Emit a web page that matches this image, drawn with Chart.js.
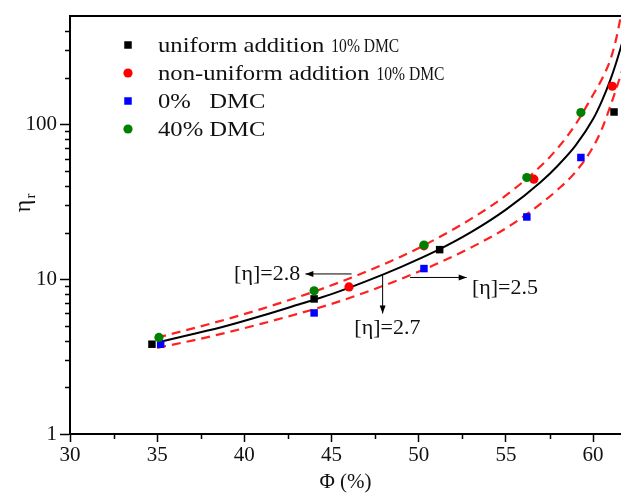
<!DOCTYPE html>
<html>
<head>
<meta charset="utf-8">
<script src="https://cdn.jsdelivr.net/npm/chart.js@4.4.1/dist/chart.umd.min.js"></script>
<style>
  html, body { margin: 0; padding: 0; background: #fff; }
  canvas { display: block; }
</style>
</head>
<body>
<canvas id="myChart" width="621" height="493"></canvas>
<script>
// measured points (phi in %, relative viscosity)
const uniformPhi = [34.7, 44.0, 51.2, 61.2];
const uniformEta = [3.8, 7.45, 15.5, 120];
const nonUniformPhi = [46.0, 50.3, 56.6, 61.1];
const nonUniformEta = [8.9, 16.4, 44.2, 176];
const dmc0Phi = [35.2, 44.0, 50.3, 56.2, 59.3];
const dmc0Eta = [3.8, 6.05, 11.7, 25.2, 61];
const dmc40Phi = [35.1, 44.0, 50.3, 56.2, 59.3];
const dmc40Eta = [4.2, 8.4, 16.6, 45.3, 119];

// fitted curves
const fitPhi = [35, 37, 39, 41, 43, 45, 47, 49, 51, 53, 55, 57, 58, 59, 60, 60.5, 61, 61.3, 61.7];
const fitEta27 = [3.9, 4.4, 5.0, 5.8, 6.8, 8.0, 9.7, 12.0, 15.2, 20.1, 28.1, 42.4, 54.4, 73, 108, 141, 195, 245, 345];
const fitEta28 = [4.19, 4.79, 5.52, 6.43, 7.6, 9.12, 11.2, 14.0, 18.2, 24.5, 34.7, 53.7, 70.8, 100, 155, 195, 263, 347, 575];
const fitEta25 = [3.6, 4.01, 4.52, 5.16, 5.94, 6.92, 8.26, 10.05, 12.5, 16.0, 21.3, 30.7, 38.1, 49.3, 71.3, 93, 132, 166, 228];

const xTicks = [30, 35, 40, 45, 50, 55, 60];
const xMinorTicks = [32.5, 37.5, 42.5, 47.5, 52.5, 57.5];
const yTicks = [1, 10, 100];
const yMinorTicks = [2, 3, 4, 5, 6, 7, 8, 9, 20, 30, 40, 50, 60, 70, 80, 90, 200, 300, 400];

const legendMain = ['uniform addition', 'non-uniform addition', '0%   DMC', '40% DMC'];
const legendSmall = ['10% DMC', '10% DMC', '', ''];

// [eta] labels: text, anchor (phi, eta), arrow from / to (phi, eta)
const noteText = ['[\u03B7]=2.8', '[\u03B7]=2.7', '[\u03B7]=2.5'];
const noteAlign = ['right', 'center', 'left'];
const noteAt = [[43.2, 10.8], [48.2, 4.83], [53.05, 8.8]];
const arrowFrom = [[46.15, 10.8], [47.93, 10.6], [49.5, 10.25]];
const arrowTo = [[43.5, 10.8], [47.93, 6.0], [52.75, 10.25]];

const serif = 'Liberation Serif';

function pts(xs, ys) {
	return xs.map((x, i) => ({ x: x, y: ys[i] }));
}

function noSidePadding(s) {
	s.paddingLeft = 0;
	s.paddingRight = 0;
}

const minorTicks = {
	id: 'minorTicks',
	afterDraw(chart) {
		const ctx = chart.ctx;
		const xs = chart.scales.x;
		const ys = chart.scales.y;
		const area = chart.chartArea;
		ctx.save();
		ctx.strokeStyle = '#000';
		ctx.lineWidth = 1.5;
		ctx.beginPath();
		xMinorTicks.forEach(v => {
			const p = Math.round(xs.getPixelForValue(v)) + 0.5;
			ctx.moveTo(p, area.bottom);
			ctx.lineTo(p, area.bottom + 5);
		});
		yMinorTicks.forEach(v => {
			const p = Math.round(ys.getPixelForValue(v)) + 0.5;
			ctx.moveTo(area.left - 5, p);
			ctx.lineTo(area.left, p);
		});
		ctx.stroke();
		ctx.restore();
	}
};

const notes = {
	id: 'notes',
	afterDatasetsDraw(chart) {
		const ctx = chart.ctx;
		const xs = chart.scales.x;
		const ys = chart.scales.y;
		ctx.save();
		ctx.lineWidth = 1;
		for (let i = 0; i < noteText.length; i++) {
			const x0 = xs.getPixelForValue(arrowFrom[i][0]);
			const y0 = ys.getPixelForValue(arrowFrom[i][1]);
			const x1 = xs.getPixelForValue(arrowTo[i][0]);
			const y1 = ys.getPixelForValue(arrowTo[i][1]);
			ctx.strokeStyle = '#000';
			ctx.fillStyle = '#000';
			ctx.beginPath();
			ctx.moveTo(x0, y0);
			ctx.lineTo(x1, y1);
			ctx.stroke();
			const a = Math.atan2(y1 - y0, x1 - x0);
			ctx.beginPath();
			ctx.moveTo(x1, y1);
			ctx.lineTo(x1 - 8 * Math.cos(a) + 3 * Math.sin(a), y1 - 8 * Math.sin(a) - 3 * Math.cos(a));
			ctx.lineTo(x1 - 8 * Math.cos(a) - 3 * Math.sin(a), y1 - 8 * Math.sin(a) + 3 * Math.cos(a));
			ctx.closePath();
			ctx.fill();

			ctx.fillStyle = '#111';
			ctx.font = '22px "' + serif + '"';
			ctx.textAlign = noteAlign[i];
			ctx.textBaseline = 'middle';
			ctx.fillText(noteText[i], xs.getPixelForValue(noteAt[i][0]), ys.getPixelForValue(noteAt[i][1]));
		}
		ctx.restore();
	}
};

const legendBox = {
	id: 'legendBox',
	afterDraw(chart) {
		const ctx = chart.ctx;
		ctx.save();
		for (let i = 0; i < legendMain.length; i++) {
			const ds = chart.data.datasets[i];
			const y = 45 + i * 28;
			ctx.fillStyle = ds.backgroundColor;
			Chart.helpers.drawPoint(ctx, { pointStyle: ds.pointStyle, radius: ds.pointRadius, rotation: 0, borderWidth: 0 }, 128, y);
			ctx.fillStyle = '#111';
			ctx.textAlign = 'left';
			ctx.textBaseline = 'alphabetic';
			ctx.font = '22px "' + serif + '"';
			const w = ctx.measureText(legendMain[i]).width * 1.12;
			ctx.save();
			ctx.translate(158, y + 7);
			ctx.scale(1.12, 1);
			ctx.fillText(legendMain[i], 0, 0);
			ctx.restore();
			if (legendSmall[i]) {
				ctx.font = '19px "' + serif + '"';
				ctx.save();
				ctx.translate(158 + w + 7, y + 7);
				ctx.scale(0.82, 1);
				ctx.fillText(legendSmall[i], 0, 0);
				ctx.restore();
			}
		}
		ctx.restore();
	}
};

const yTitle = {
	id: 'yTitle',
	afterDraw(chart) {
		const ctx = chart.ctx;
		ctx.save();
		ctx.translate(24, 203);
		ctx.rotate(-Math.PI / 2);
		ctx.fillStyle = '#111';
		ctx.textAlign = 'center';
		ctx.textBaseline = 'middle';
		ctx.font = '24px "' + serif + '"';
		ctx.fillText('\u03B7', -3, 0);
		ctx.font = '15px "' + serif + '"';
		ctx.fillText('r', 7, 7);
		ctx.restore();
	}
};

const ctx = document.getElementById('myChart').getContext('2d');
const chart = new Chart(ctx, {
	type: 'scatter',
	data: {
		datasets: [
			{ label: 'uniform addition 10% DMC', data: pts(uniformPhi, uniformEta), pointStyle: 'rect', pointRadius: 5.3, backgroundColor: '#000000', borderWidth: 0, order: 4 },
			{ label: 'non-uniform addition 10% DMC', data: pts(nonUniformPhi, nonUniformEta), pointStyle: 'circle', pointRadius: 4.6, backgroundColor: '#ff0000', borderWidth: 0, order: 3 },
			{ label: '0% DMC', data: pts(dmc0Phi, dmc0Eta), pointStyle: 'rect', pointRadius: 5.3, backgroundColor: '#0000ff', borderWidth: 0, order: 2 },
			{ label: '40% DMC', data: pts(dmc40Phi, dmc40Eta), pointStyle: 'circle', pointRadius: 4.6, backgroundColor: '#008000', borderWidth: 0, order: 1 },
			{ label: '[η]=2.7', data: pts(fitPhi, fitEta27), showLine: true, pointRadius: 0, borderColor: '#000000', borderWidth: 2, cubicInterpolationMode: 'monotone', order: 10 },
			{ label: '[η]=2.8', data: pts(fitPhi, fitEta28), showLine: true, pointRadius: 0, borderColor: '#ff2020', borderWidth: 2.2, borderDash: [9, 6], cubicInterpolationMode: 'monotone', order: 11 },
			{ label: '[η]=2.5', data: pts(fitPhi, fitEta25), showLine: true, pointRadius: 0, borderColor: '#ff2020', borderWidth: 2.2, borderDash: [9, 6], cubicInterpolationMode: 'monotone', order: 12 }
		]
	},
	options: {
		responsive: false,
		animation: false,
		events: [],
		layout: { padding: 0, autoPadding: false },
		plugins: {
			legend: { display: false },
			tooltip: { enabled: false }
		},
		scales: {
			x: {
				type: 'linear',
				position: 'bottom',
				min: 30,
				max: 61.6,
				afterBuildTicks: s => { s.ticks = xTicks.map(v => ({ value: v })); },
				afterFit: s => { s.height = 59; noSidePadding(s); },
				ticks: { font: { family: serif, size: 21 }, color: '#111', padding: 1, maxRotation: 0, autoSkip: false },
				grid: { display: true, drawOnChartArea: false, drawTicks: true, tickLength: 8, tickColor: '#000', tickWidth: 1.5 },
				border: { color: '#000', width: 2 },
				title: { display: true, text: 'Φ (%)', color: '#111', font: { family: serif, size: 21, lineHeight: 1 }, padding: { top: 0, bottom: 0 } }
			},
			x2: {
				type: 'linear',
				position: 'top',
				min: 30,
				max: 61.6,
				afterFit: s => { s.height = 16; noSidePadding(s); },
				ticks: { display: false },
				grid: { display: false, drawTicks: false },
				border: { color: '#000', width: 2 }
			},
			y: {
				type: 'logarithmic',
				min: 1,
				max: 500,
				afterBuildTicks: s => { s.ticks = yTicks.map(v => ({ value: v })); },
				afterFit: s => { s.width = 70; },
				ticks: { font: { family: serif, size: 21 }, color: '#111', padding: 3, callback: v => String(v) },
				grid: { display: true, drawOnChartArea: false, drawTicks: true, tickLength: 10, tickColor: '#000', tickWidth: 1.5 },
				border: { color: '#000', width: 2 }
			}
		}
	},
	plugins: [minorTicks, notes, legendBox, yTitle]
});
</script>
</body>
</html>
